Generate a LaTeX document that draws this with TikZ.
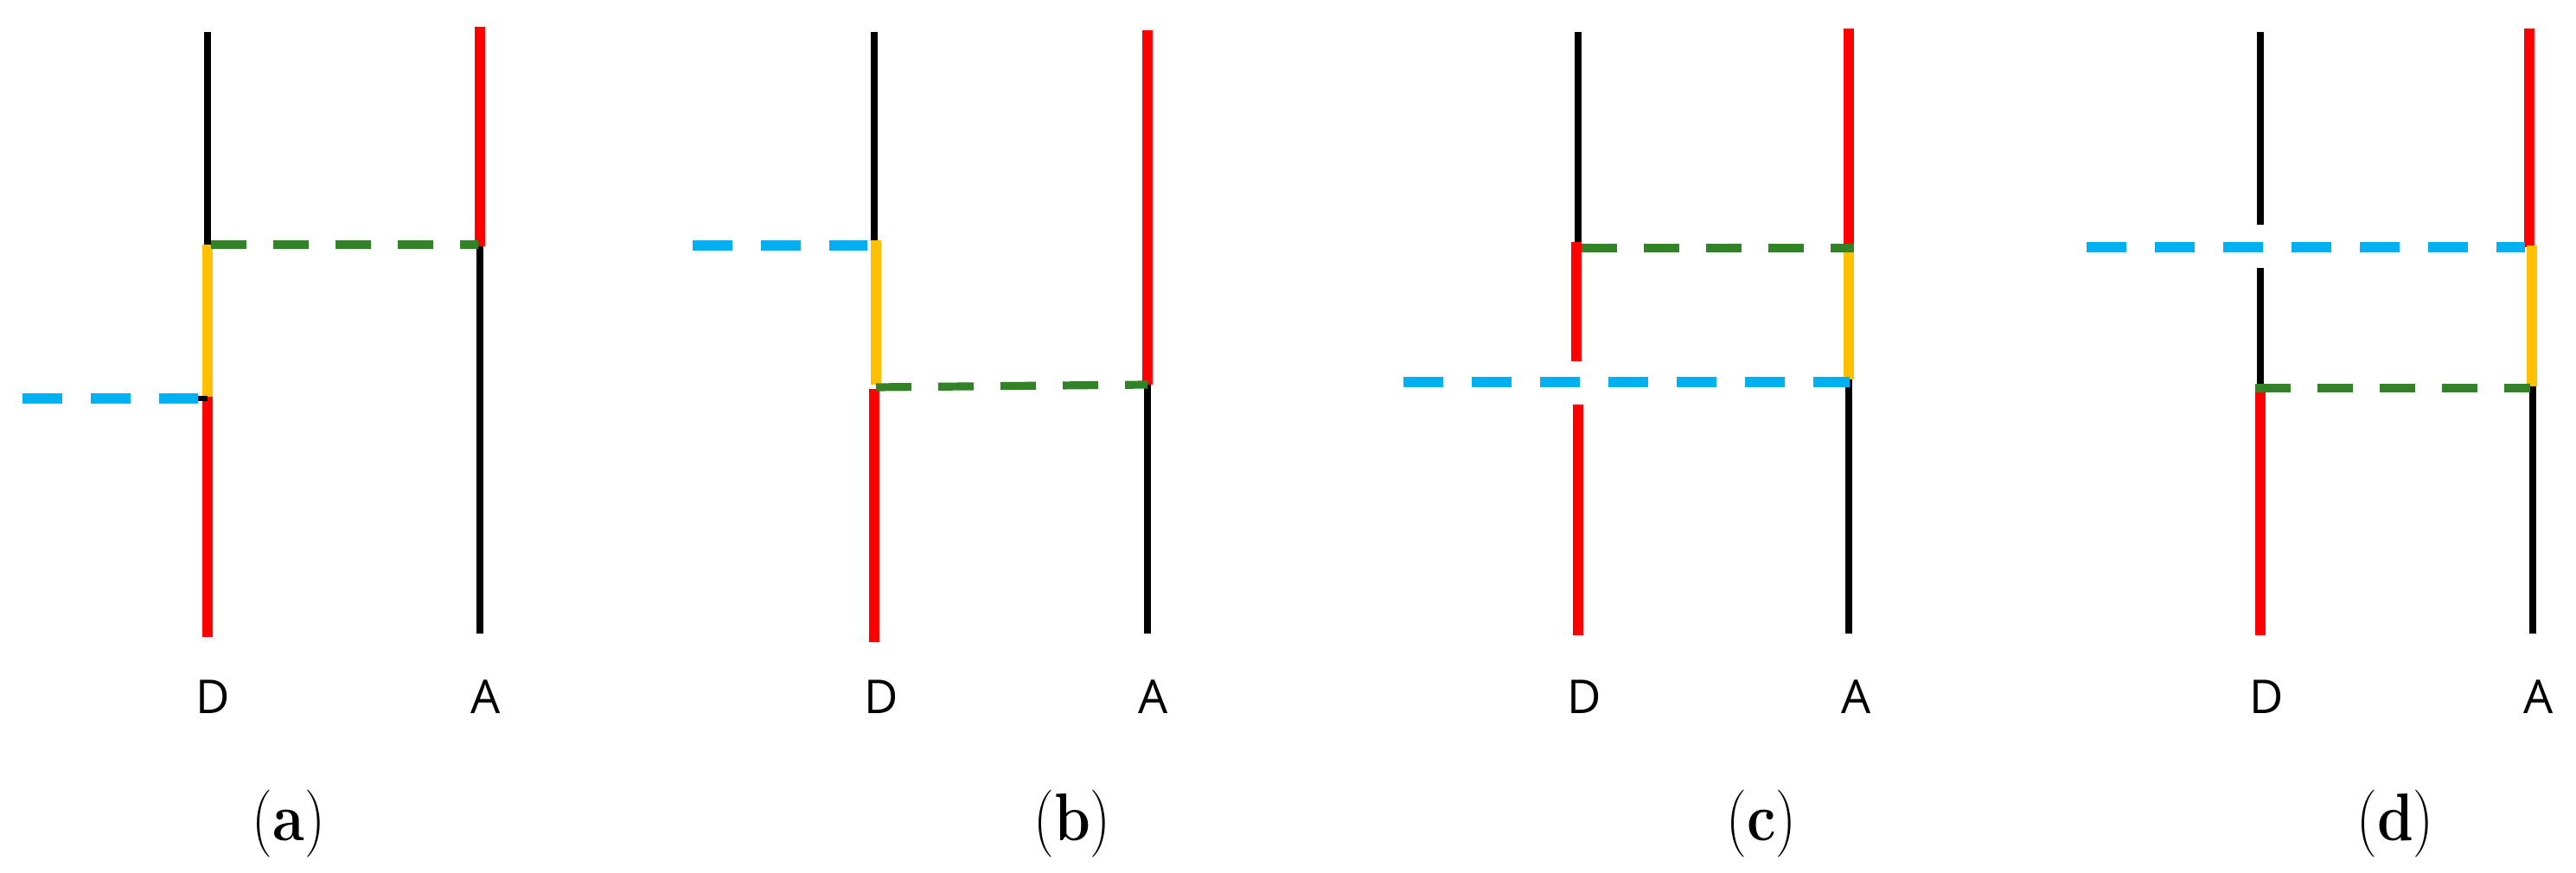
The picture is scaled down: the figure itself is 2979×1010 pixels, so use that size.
\documentclass[tikz,border=0pt]{standalone}
\usepackage{fontspec}
\newfontfamily\lblfont{Open Sans}
\definecolor{vred}{RGB}{255,0,0}
\definecolor{vyel}{RGB}{255,192,0}
\definecolor{vblue}{RGB}{0,176,240}
\definecolor{vgreen}{RGB}{50,130,40}
\begin{document}
\begin{tikzpicture}[x=0.5pt,y=-0.5pt,
  blk/.style={line width=4pt,black},
  redl/.style={line width=6pt,vred},
  yell/.style={line width=6pt,vyel},
  bluedash/.style={line width=5.6pt,vblue,dash pattern=on 23pt off 16.5pt},
  greendash/.style={line width=4.6pt,vgreen,dash pattern=on 20.5pt off 15.5pt},
  axlbl/.style={font=\lblfont\fontsize{27}{32}\selectfont,anchor=base,inner sep=0pt},
  sublbl/.style={font=\fontsize{39}{46}\selectfont,anchor=base,inner sep=0pt}]
\useasboundingbox (0,0) rectangle (2979,1010);
\newcommand{\subcap}[1]{\scalebox{0.86}[1]{(\textbf{#1})}}

% ---------- (a)
\coordinate (aD1) at (240,37);  \coordinate (aD2) at (240,283);
\coordinate (aD3) at (239.5,459); \coordinate (aD4) at (239.5,737);
\coordinate (aA1) at (555,31);  \coordinate (aA2) at (555,285);
\coordinate (aA3) at (555,733);
\draw[blk]  (aD1) -- (aD2);
\draw[yell] (240,283) -- (240,459);
\draw[redl] (aD3) -- (aD4);
\draw[redl] (aA1) -- (aA2);
\draw[blk]  (aA2) -- (aA3);
\coordinate (agL) at (244,283); \coordinate (agR) at (553,283);
\draw[greendash] (agL) -- (agR);
\coordinate (abL) at (26,461); \coordinate (abR) at (229,461);
\draw[bluedash] (abL) -- (abR);
\coordinate (ajL) at (229,461); \coordinate (ajR) at (240,461);
\draw[line width=3pt,black] (ajL) -- (ajR);
\node[axlbl] (aDl) at (246,825) {D};
\node[axlbl] (aAl) at (562,825) {A};
\node[sublbl] (acap) at (334,972) {\subcap{a}};

% ---------- (b)
\coordinate (bD1) at (1011,37);  \coordinate (bD2) at (1011,278);
\coordinate (bD3) at (1013,278); \coordinate (bD4) at (1013,445);
\coordinate (bD5) at (1011,450); \coordinate (bD6) at (1011,743);
\coordinate (bA1) at (1327,35);  \coordinate (bA2) at (1327,445);
\coordinate (bA3) at (1327,733);
\draw[blk]  (bD1) -- (bD2);
\draw[yell] (bD3) -- (bD4);
\draw[redl] (bD5) -- (bD6);
\draw[redl] (bA1) -- (bA2);
\draw[blk]  (bA2) -- (bA3);
\coordinate (bgL) at (1013,448); \coordinate (bgR) at (1327,445);
\draw[greendash] (bgL) -- (bgR);
\coordinate (bbL) at (801,284); \coordinate (bbR) at (1003,284);
\draw[bluedash] (bbL) -- (bbR);
\node[axlbl] (bDl) at (1019,825) {D};
\node[axlbl] (bAl) at (1334,825) {A};
\node[sublbl] (bcap) at (1240,972) {\subcap{b}};

% ---------- (c)
\coordinate (cD1) at (1825,37);  \coordinate (cD2) at (1825,280);
\coordinate (cD3) at (1823,280); \coordinate (cD4) at (1823,418);
\coordinate (cD5) at (1825,468); \coordinate (cD6) at (1825,735);
\coordinate (cA1) at (2138,33);  \coordinate (cA2) at (2138,284);
\coordinate (cA3) at (2138,439); \coordinate (cA4) at (2138,733);
\draw[blk]  (cD1) -- (cD2);
\draw[redl] (cD3) -- (cD4);
\draw[redl] (cD5) -- (cD6);
\draw[redl] (cA1) -- (cA2);
\draw[yell] (cA2) -- (cA3);
\draw[blk]  (cA3) -- (cA4);
\coordinate (cgL) at (1829,287); \coordinate (cgR) at (2144,287);
\draw[greendash] (cgL) -- (cgR);
\coordinate (cbL) at (1623,442); \coordinate (cbR) at (2139,442);
\draw[bluedash] (cbL) -- (cbR);
\node[axlbl] (cDl) at (1832,825) {D};
\node[axlbl] (cAl) at (2147,825) {A};
\node[sublbl] (ccap) at (2037,972) {\subcap{c}};

% ---------- (d)
\coordinate (dD1) at (2614,37);  \coordinate (dD2) at (2614,260);
\coordinate (dD3) at (2614,310); \coordinate (dD4) at (2614,453);
\coordinate (dD5) at (2614,735);
\coordinate (dA1) at (2925,33);  \coordinate (dA2) at (2925,286);
\coordinate (dA3) at (2928,284); \coordinate (dA4) at (2928,447);
\coordinate (dA5) at (2929,447); \coordinate (dA6) at (2929,733);
\draw[blk]  (dD1) -- (dD2);
\draw[blk]  (dD3) -- (dD4);
\draw[redl] (dD4) -- (dD5);
\draw[redl] (dA1) -- (dA2);
\draw[yell] (dA3) -- (dA4);
\draw[blk]  (dA5) -- (dA6);
\coordinate (dgL) at (2608,449); \coordinate (dgR) at (2926,449);
\draw[greendash] (dgL) -- (dgR);
\coordinate (dbL) at (2413,286); \coordinate (dbR) at (2920,286);
\draw[bluedash] (dbL) -- (dbR);
\node[axlbl] (dDl) at (2621,825) {D};
\node[axlbl] (dAl) at (2936,825) {A};
\node[sublbl] (dcap) at (2770,972) {\subcap{d}};
\end{tikzpicture}
\end{document}
